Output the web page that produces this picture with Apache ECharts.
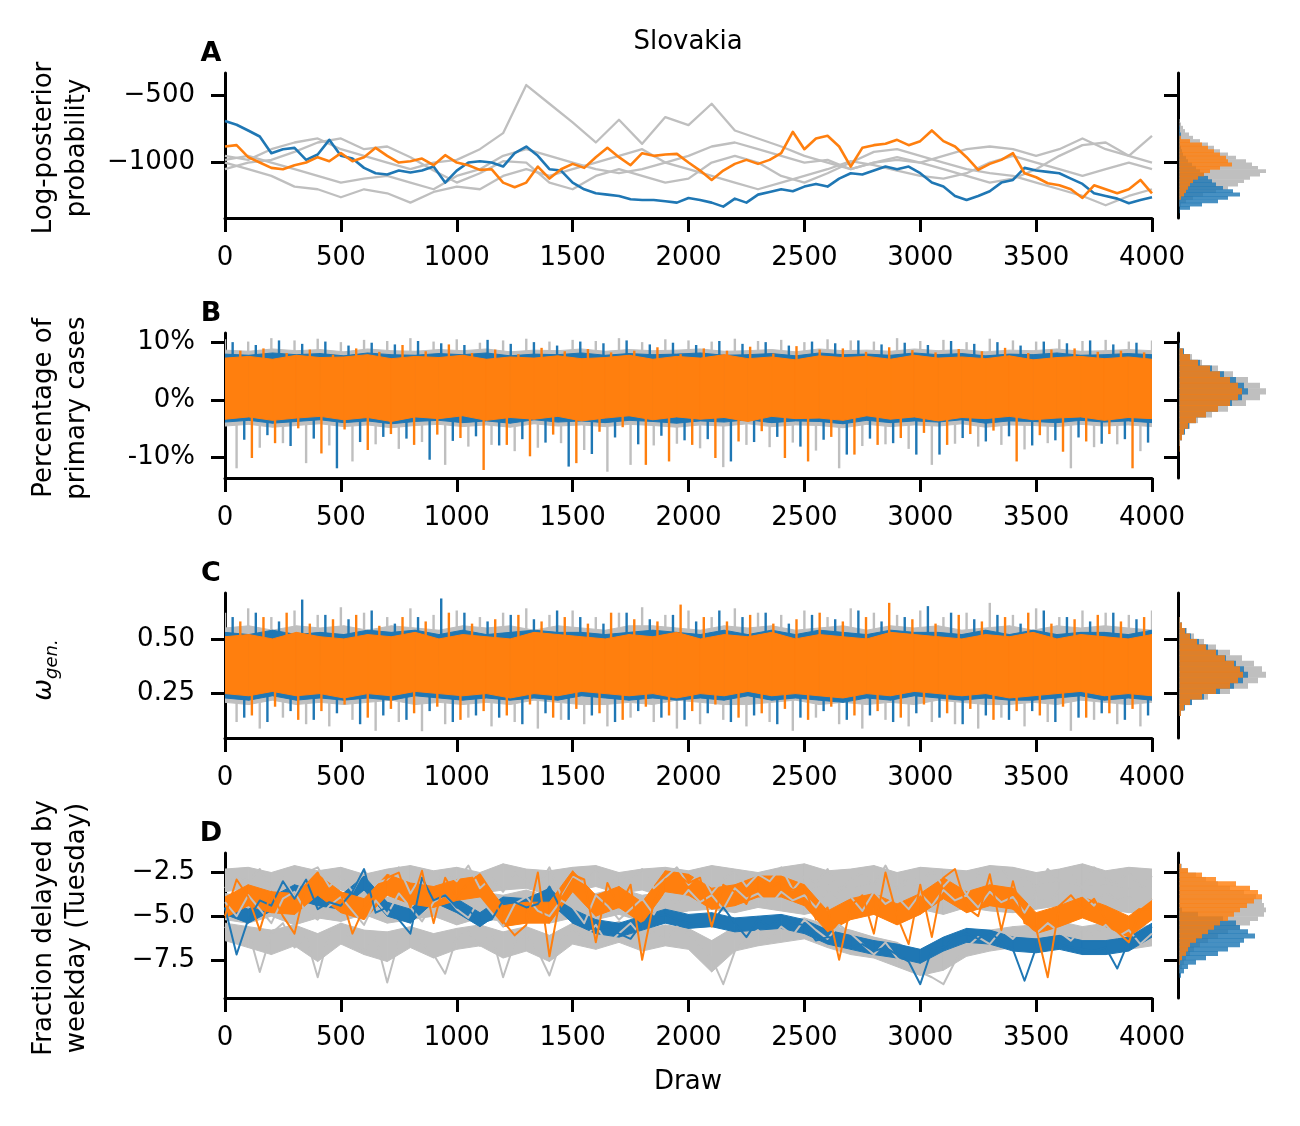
<!DOCTYPE html>
<html><head><meta charset="utf-8">
<script src="https://cdn.jsdelivr.net/npm/echarts@6/dist/echarts.min.js"></script>
<style>html,body{margin:0;padding:0;background:#fff}#c{width:1300px;height:1126px}</style>
</head><body><div id="c"></div>
<script>
// ---------------- DATA ----------------
const xTicks = [0,500,1000,1500,2000,2500,3000,3500,4000];
const drawsMax = 4000;

// Panel A: log-posterior probability, chains read every 50 / 100 draws
const blueA = [-690,-717,-760,-805,-930,-900,-890,-980,-940,-830,
 -950,-970,-1040,-1080,-1090,-1060,-1075,-1060,-1030,-1150,
 -1060,-1000,-990,-1000,-1030,-930,-880,-950,-1050,-1060,
 -1150,-1200,-1230,-1240,-1250,-1275,-1280,-1280,-1290,-1300,
 -1265,-1280,-1300,-1330,-1270,-1300,-1240,-1220,-1200,-1215,
 -1180,-1160,-1180,-1120,-1080,-1090,-1060,-1030,-1050,-1030,
 -1080,-1150,-1180,-1250,-1280,-1250,-1215,-1150,-1130,-1040,
 -1060,-1070,-1080,-1120,-1160,-1230,-1250,-1270,-1305,-1280,
 -1260];
const orangeA = [-880,-870,-960,-1000,-1040,-1050,-1020,-1000,-960,-990,
 -930,-990,-960,-890,-950,-1000,-990,-970,-1020,-945,
 -1000,-1020,-1055,-1050,-1150,-1185,-1150,-1030,-1120,-1050,
 -1010,-1040,-960,-890,-960,-1020,-930,-950,-940,-935,
 -1000,-1060,-1130,-1060,-1010,-980,-1010,-980,-930,-770,
 -900,-820,-800,-880,-1030,-890,-870,-860,-830,-870,
 -840,-760,-840,-880,-960,-1055,-1010,-980,-930,-1080,
 -1110,-1155,-1170,-1200,-1265,-1170,-1200,-1230,-1200,-1130,
 -1230];
const grayA1 = [-950,-980,-900,-850,-820,-900,-950,-1000,-1050,-1000,
 -980,-900,-780,-420,-560,-700,-850,-680,-860,-660,
 -720,-560,-760,-820,-880,-950,-1000,-1050,-1000,-980,
 -1000,-1050,-1100,-1150,-1120,-1050,-950,-870,-850,-950,
 -800];
const grayA2 = [-1000,-1050,-1100,-1180,-1200,-1260,-1200,-1230,-1300,-1220,
 -1180,-1200,-1100,-1050,-1100,-1050,-1000,-950,-900,-1000,
 -950,-880,-850,-900,-950,-1000,-980,-1050,-1000,-960,
 -1000,-950,-900,-880,-900,-950,-900,-820,-900,-950,
 -1000];
const grayA3 = [-1050,-1000,-980,-920,-850,-820,-900,-880,-960,-1060,
 -1150,-1080,-990,-1000,-1150,-1200,-1100,-1050,-1100,-1150,
 -1120,-1000,-950,-1000,-1100,-1150,-1080,-1000,-920,-900,
 -950,-1000,-1050,-1080,-1100,-1150,-1200,-1250,-1320,-1250,
 -1200];
const grayA4 = [-980,-950,-1000,-1050,-1100,-1150,-1120,-1100,-1150,-1200,
 -1100,-1050,-950,-900,-950,-1000,-1050,-1080,-1050,-1000,
 -1050,-1100,-1150,-1200,-1150,-1100,-1050,-990,-1020,-1060,
 -1100,-1120,-1080,-1000,-950,-1000,-1050,-1100,-1050,-1000,
 -1050];

// Panel B: percentage of primary cases — dense core of each chain (40 bins) + extremes every 100 draws
const orangeCoreHiB = [7.3,7.6,7.1,7.8,7.4,7.5,7.9,7.2,7.6,7.4,7.8,7.1,7.5,7.3,7.7,7.2,7.4,7.8,7.1,7.6,7.3,7.9,7.2,7.5,7.0,7.7,7.4,7.6,7.1,7.8,7.3,7.5,7.2,7.7,7.0,7.4,7.6,7.2,7.5,7.1];
const orangeCoreLoB = [-3.4,-3.0,-3.6,-3.2,-2.9,-3.5,-3.1,-3.8,-3.0,-3.3,-2.8,-3.6,-3.1,-3.4,-2.9,-3.7,-3.2,-2.8,-3.5,-3.0,-3.4,-3.1,-3.8,-2.9,-3.3,-3.2,-3.6,-2.8,-3.4,-3.0,-3.7,-3.1,-3.3,-2.9,-3.5,-3.2,-3.0,-3.6,-3.1,-3.3];
const blueCoreHiB = [8.0,7.8,8.2,7.9,8.1,7.7,8.2,7.9,7.8,8.1,7.9,8.2,7.7,8.0,7.9,8.2,7.8,8.1,7.9,8.0,8.2,7.8,7.9,8.1,7.7,8.2,7.9,8.0,7.8,8.2,7.9,8.1,7.7,8.0,7.9,8.2,7.8,7.9,8.1,7.9];
const blueCoreLoB = [-3.9,-3.6,-4.1,-3.8,-3.5,-4.0,-3.7,-4.2,-3.8,-3.6,-4.0,-3.7,-4.1,-3.5,-3.9,-3.7,-4.0,-3.6,-3.8,-4.1,-3.7,-3.9,-3.5,-4.0,-3.7,-3.8,-4.2,-3.6,-4.0,-3.7,-3.9,-3.5,-4.1,-3.7,-3.8,-4.0,-3.6,-3.9,-3.7,-4.0];
const grayCoreHiB = [8.7,8.5,8.9,8.6,8.8,8.4,8.9,8.6,8.5,8.8,8.6,8.9,8.4,8.7,8.6,8.9,8.5,8.8,8.6,8.7,8.9,8.5,8.6,8.8,8.4,8.9,8.6,8.7,8.5,8.9,8.6,8.8,8.4,8.7,8.6,8.9,8.5,8.6,8.8,8.6];
const grayCoreLoB = [-4.6,-4.3,-4.8,-4.5,-4.2,-4.7,-4.4,-4.9,-4.5,-4.3,-4.7,-4.4,-4.8,-4.2,-4.6,-4.4,-4.7,-4.3,-4.5,-4.8,-4.4,-4.6,-4.2,-4.7,-4.4,-4.5,-4.9,-4.3,-4.7,-4.4,-4.6,-4.2,-4.8,-4.4,-4.5,-4.7,-4.3,-4.6,-4.4,-4.7];
const orangeSpikeHiB = [8.6,9.0,8.2,8.8,7.9,9.0,8.4,9.6,8.5,9.7,8.2,8.8,8.0,9.1,8.5,8.9,8.3,8.6,9.2,8.0,9.0,8.6,9.3,8.1,9.4,8.8,9.0,8.4,9.2,8.7,8.3,8.9,8.5,9.1,8.2,8.8,9.0,8.4,8.6,8.3,7.8];
const orangeSpikeLoB = [-10.2,-7.6,-5.0,-9.4,-5.2,-8.8,-6.0,-7.9,-6.1,-6.7,-12.3,-7.9,-9.9,-6.1,-11.1,-5.6,-4.8,-11.4,-10.8,-7.9,-10.2,-7.3,-5.5,-10.2,-10.8,-6.5,-9.6,-7.9,-6.7,-5.8,-7.9,-6.0,-5.4,-10.8,-6.2,-9.1,-7.3,-6.0,-12.0,-12.0];
const blueSpikeHiB = [10.1,9.6,10.4,9.8,10.2,9.5,10.0,9.7,10.3,9.9,9.6,10.5,9.8,10.1,9.5,10.2,9.9,10.4,9.7,10.0,9.6,10.3,9.8,10.1,9.5,10.2,9.9,10.4,9.7,10.0,9.6,10.3,9.8,10.1,9.5,10.2,9.9,10.4,9.7,10.0,9.8];
const blueSpikeLoB = [-7.0,-6.2,-8.1,-6.8,-12.0,-7.4,-6.5,-6.8,-10.5,-7.2,-6.4,-8.0,-6.9,-7.5,-11.7,-9.5,-6.6,-7.8,-6.3,-7.1,-6.9,-10.8,-7.4,-6.5,-8.2,-7.0,-9.6,-6.8,-7.6,-9.6,-9.6,-6.7,-7.3,-6.4,-8.0,-7.1,-6.6,-7.7,-6.9,-7.5];
const graySpikeHiB = [10.6,10.2,10.8,10.4,10.7,10.1,10.5,10.3,10.8,10.2,10.6,10.0,10.4,10.7,10.2,10.5,10.3,10.8,10.1,10.6,10.4,10.2,10.7,10.3,10.5,10.1,10.6,10.4,10.2,10.8,10.3,10.5,10.1,10.7,10.4,10.2,10.6,10.3,10.5,10.2,10.4];
const graySpikeLoB = [-12.0,-8.4,-7.6,-11.1,-8.0,-10.8,-7.8,-8.6,-7.4,-11.4,-8.2,-7.9,-9.0,-8.4,-7.6,-8.8,-12.6,-11.4,-8.0,-7.7,-8.5,-11.8,-7.9,-8.3,-7.5,-8.9,-12.0,-8.1,-7.8,-8.6,-11.4,-7.7,-8.2,-7.9,-8.7,-7.6,-12.0,-8.3,-7.8,-9.0];

// Panel C: omega_gen
const orangeCoreHiC = [0.51,0.52,0.50,0.53,0.51,0.50,0.52,0.51,0.53,0.50,0.52,0.51,0.50,0.53,0.52,0.51,0.50,0.52,0.51,0.53,0.50,0.52,0.51,0.53,0.50,0.52,0.51,0.50,0.53,0.52,0.51,0.50,0.52,0.51,0.53,0.50,0.52,0.51,0.50,0.52];
const orangeCoreLoC = [0.25,0.24,0.26,0.24,0.25,0.23,0.25,0.24,0.26,0.25,0.24,0.25,0.23,0.25,0.24,0.26,0.25,0.24,0.25,0.23,0.25,0.24,0.26,0.24,0.25,0.24,0.23,0.25,0.24,0.26,0.25,0.24,0.25,0.23,0.24,0.25,0.26,0.24,0.25,0.24];
const blueCoreHiC = [0.53,0.52,0.54,0.52,0.53,0.52,0.54,0.53,0.54,0.52,0.54,0.52,0.53,0.54,0.53,0.53,0.52,0.53,0.54,0.53,0.52,0.54,0.52,0.54,0.52,0.54,0.53,0.52,0.54,0.53,0.53,0.52,0.54,0.52,0.54,0.52,0.53,0.53,0.52,0.54];
const blueCoreLoC = [0.23,0.22,0.24,0.22,0.23,0.22,0.23,0.22,0.24,0.23,0.22,0.23,0.22,0.23,0.22,0.24,0.23,0.22,0.23,0.22,0.23,0.22,0.24,0.22,0.23,0.22,0.21,0.23,0.22,0.24,0.23,0.22,0.23,0.22,0.22,0.23,0.24,0.22,0.23,0.22];
const grayCoreHiC = [0.55,0.56,0.54,0.56,0.55,0.56,0.54,0.56,0.55,0.54,0.56,0.55,0.56,0.54,0.56,0.55,0.54,0.56,0.56,0.55,0.54,0.56,0.55,0.56,0.54,0.55,0.56,0.54,0.56,0.55,0.56,0.54,0.55,0.56,0.54,0.56,0.55,0.56,0.55,0.54];
const grayCoreLoC = [0.21,0.20,0.22,0.20,0.21,0.20,0.21,0.22,0.20,0.21,0.20,0.21,0.20,0.22,0.21,0.20,0.20,0.21,0.20,0.22,0.21,0.20,0.20,0.21,0.22,0.20,0.21,0.20,0.21,0.20,0.22,0.21,0.20,0.20,0.21,0.20,0.22,0.21,0.20,0.21];
const orangeSpikeHiC = [0.58,0.60,0.62,0.57,0.59,0.61,0.56,0.60,0.58,0.62,0.57,0.59,0.61,0.58,0.60,0.57,0.62,0.59,0.58,0.657,0.60,0.58,0.61,0.57,0.59,0.62,0.58,0.60,0.665,0.59,0.57,0.61,0.58,0.60,0.62,0.57,0.59,0.61,0.58,0.60,0.57];
const orangeSpikeLoC = [0.15,0.19,0.13,0.17,0.20,0.14,0.18,0.16,0.19,0.13,0.17,0.15,0.20,0.14,0.18,0.16,0.13,0.19,0.15,0.17,0.20,0.14,0.16,0.18,0.13,0.19,0.15,0.17,0.14,0.20,0.16,0.18,0.13,0.17,0.15,0.19,0.14,0.16,0.18,0.13];
const blueSpikeHiC = [0.60,0.62,0.58,0.68,0.61,0.59,0.63,0.57,0.60,0.685,0.62,0.58,0.61,0.59,0.63,0.60,0.57,0.62,0.59,0.61,0.58,0.63,0.60,0.62,0.57,0.61,0.59,0.63,0.58,0.60,0.65,0.62,0.59,0.61,0.57,0.63,0.60,0.58,0.62,0.59,0.61];
const blueSpikeLoC = [0.14,0.12,0.17,0.13,0.16,0.11,0.15,0.13,0.17,0.12,0.15,0.14,0.11,0.16,0.13,0.15,0.12,0.17,0.14,0.13,0.16,0.12,0.15,0.11,0.14,0.17,0.13,0.15,0.12,0.16,0.14,0.11,0.15,0.13,0.17,0.12,0.14,0.16,0.13,0.15];
const graySpikeHiC = [0.62,0.64,0.60,0.63,0.61,0.645,0.62,0.60,0.64,0.61,0.63,0.60,0.62,0.64,0.61,0.63,0.60,0.62,0.645,0.61,0.63,0.60,0.64,0.62,0.61,0.63,0.60,0.64,0.62,0.61,0.63,0.60,0.62,0.665,0.61,0.64,0.60,0.63,0.62,0.61,0.63];
const graySpikeLoC = [0.12,0.09,0.14,0.11,0.10,0.13,0.08,0.12,0.078,0.11,0.14,0.10,0.12,0.09,0.13,0.11,0.10,0.14,0.12,0.09,0.11,0.13,0.10,0.12,0.08,0.14,0.11,0.09,0.13,0.10,0.12,0.11,0.09,0.14,0.10,0.12,0.08,0.13,0.11,0.10];

// Panel D: fraction delayed by weekday (Tuesday) — readings every 50 draws + chain band every 100 draws
const blueD = [-4.5,-7.2,-5.2,-4.1,-4.4,-3.0,-4.0,-2.9,-4.6,-4.2,
 -4.4,-3.6,-2.3,-4.8,-4.5,-5.2,-6.0,-2.8,-4.1,-3.8,
 -4.5,-4.6,-5.4,-5.2,-4.1,-4.2,-4.5,-4.3,-3.3,-4.6,
 -5.2,-5.6,-5.8,-5.6,-6.0,-6.3,-5.4,-5.1,-4.9,-5.2,
 -5.4,-5.5,-5.4,-4.5,-5.4,-6.2,-5.2,-5.6,-5.0,-5.4,
 -5.5,-6.4,-6.2,-6.3,-6.8,-6.6,-7.0,-6.8,-7.2,-7.6,
 -8.9,-6.9,-6.8,-6.2,-6.0,-6.3,-5.9,-6.5,-6.9,-8.7,
 -6.8,-6.4,-6.6,-6.8,-6.9,-7.0,-6.8,-8.0,-6.4,-6.0,
 -5.6];
const orangeD = [-5.0,-2.9,-3.9,-5.8,-3.6,-5.0,-6.0,-3.2,-2.5,-3.9,
 -3.7,-6.0,-4.5,-3.8,-2.8,-2.5,-4.5,-2.4,-5.4,-2.8,
 -3.9,-3.1,-2.6,-3.6,-5.3,-6.1,-5.5,-2.5,-7.3,-3.7,
 -2.6,-2.9,-6.5,-3.1,-4.5,-3.2,-7.5,-4.2,-2.9,-2.6,
 -3.1,-2.8,-5.6,-3.2,-3.6,-4.3,-2.8,-3.4,-3.0,-3.5,
 -3.3,-5.2,-4.5,-7.5,-4.4,-3.8,-6.0,-2.5,-5.0,-6.6,
 -3.2,-6.2,-2.8,-2.3,-4.5,-5.0,-2.6,-5.8,-3.0,-5.4,
 -5.7,-8.5,-4.4,-3.8,-4.6,-4.0,-5.2,-5.9,-6.5,-4.6,
 -4.6];
const grayD1 = [-3.4,-2.6,-3.0,-2.3,-3.5,-2.8,-3.9,-2.5,-2.2,-3.3,
 -2.7,-3.6,-2.4,-3.1,-2.9,-2.2,-3.7,-2.6,-3.2,-2.4,
 -3.0,-2.1,-3.4,-2.8,-3.6,-2.5,-2.9,-3.3,-2.2,-3.8,
 -2.7,-3.1,-2.4,-3.5,-2.6,-3.0,-2.3,-3.4,-2.8,-2.2,
 -3.2,-2.5,-3.7,-2.9,-2.4,-3.3,-2.6,-3.0,-2.2,-3.5,
 -2.7,-3.1,-2.3,-3.6,-2.9,-2.5,-3.2,-2.1,-3.4,-2.8,
 -3.0,-2.4,-3.3,-2.6,-3.8,-2.5,-2.9,-2.2,-3.2,-2.7,
 -3.5,-2.3,-3.0,-2.6,-3.4,-2.2,-2.9,-3.1,-2.5,-3.3,
 -2.7];
const grayD2 = [-4.2,-5.0,-3.8,-4.6,-5.4,-4.0,-3.6,-4.8,-5.2,-4.4,
 -3.9,-4.7,-5.5,-4.1,-4.9,-3.7,-4.5,-5.3,-4.2,-3.8,
 -4.6,-5.1,-4.0,-4.8,-5.6,-4.3,-3.9,-4.7,-5.0,-4.1,
 -4.5,-5.4,-3.8,-4.4,-5.2,-4.6,-4.0,-4.9,-3.7,-4.3,
 -3.5,-4.2,-3.8,-4.6,-3.4,-4.0,-3.7,-4.4,-3.6,-4.1,
 -3.8,-4.5,-3.5,-4.2,-3.9,-4.7,-3.6,-4.3,-3.9,-4.6,
 -3.7,-4.4,-3.5,-4.1,-3.8,-4.5,-3.6,-4.2,-3.9,-4.8,
 -3.7,-4.3,-3.5,-4.0,-3.8,-4.4,-3.6,-4.1,-3.9,-4.5,
 -4.0];
const grayD3 = [-5.6,-6.5,-5.8,-8.2,-6.0,-5.4,-6.8,-6.2,-8.5,-6.0,
 -5.6,-6.4,-7.0,-6.2,-8.8,-6.4,-5.8,-6.6,-7.2,-8.3,
 -6.2,-5.9,-6.7,-6.0,-8.5,-6.5,-6.1,-7.0,-8.4,-6.4,
 -5.7,-6.3,-5.5,-6.6,-6.0,-5.4,-6.2,-5.8,-6.4,-5.6,
 -6.0,-6.8,-7.4,-8.9,-7.0,-6.2,-5.8,-6.4,-5.6,-6.1,
 -5.2,-5.8,-6.3,-5.5,-6.0,-6.6,-7.2,-6.5,-7.4,-7.9,
 -8.2,-8.5,-8.9,-7.6,-6.8,-6.2,-6.6,-5.8,-6.3,-5.6,
 -6.0,-5.4,-5.9,-6.4,-5.7,-6.1,-5.5,-6.2,-5.8,-6.6,
 -6.0];
const blueBandHiD = [-4.1,-4.6,-3.9,-3.2,-3.6,-3.8,-2.7,-4.2,-4.6,-3.4,-4.0,-4.8,-3.9,-4.0,-3.4,-4.6,-5.2,-5.4,-5.0,-4.6,-4.9,-4.8,-5.1,-5.0,-4.9,-5.2,-5.8,-6.1,-6.4,-6.6,-6.9,-6.2,-5.7,-5.8,-6.2,-6.3,-6.1,-6.4,-6.4,-6.2,-5.4];
const blueBandLoD = [-4.9,-5.4,-4.7,-4.0,-4.4,-4.6,-3.5,-5.0,-5.4,-4.2,-4.8,-5.6,-4.7,-4.8,-4.2,-5.4,-6.0,-6.2,-5.8,-5.4,-5.7,-5.6,-5.9,-5.8,-5.7,-6.0,-6.6,-6.9,-7.2,-7.4,-7.7,-7.0,-6.5,-6.6,-7.0,-7.1,-6.9,-7.2,-7.2,-7.0,-6.2];
const orangeBandHiD = [-3.9,-3.2,-3.6,-3.7,-2.6,-3.6,-4.0,-2.6,-3.1,-3.3,-2.9,-2.7,-4.4,-4.2,-4.2,-2.4,-3.8,-3.3,-4.2,-2.4,-2.6,-3.4,-3.2,-2.7,-2.7,-3.2,-4.7,-4.0,-3.7,-4.3,-3.7,-2.8,-3.6,-3.2,-3.4,-4.8,-4.4,-3.9,-4.4,-5.0,-4.0];
const orangeBandLoD = [-5.1,-4.4,-4.8,-4.9,-3.8,-4.8,-5.2,-3.8,-4.3,-4.5,-4.1,-3.9,-5.6,-5.4,-5.4,-3.6,-5.0,-4.5,-5.4,-3.6,-3.8,-4.6,-4.4,-3.9,-3.9,-4.4,-5.9,-5.2,-4.9,-5.5,-4.9,-4.0,-4.8,-4.4,-4.6,-6.0,-5.6,-5.1,-5.6,-6.2,-5.2];
const grayBandHiD1 = [-2.3,-2.2,-2.5,-2.1,-2.4,-2.2,-2.6,-2.3,-2.1,-2.4,-2.2,-2.5,-2.0,-2.3,-2.4,-2.2,-2.1,-2.5,-2.3,-2.2,-2.4,-2.1,-2.3,-2.5,-2.2,-2.0,-2.4,-2.3,-2.1,-2.5,-2.2,-2.3,-2.4,-2.1,-2.2,-2.5,-2.3,-2.0,-2.4,-2.2,-2.3];
const grayBandLoD1 = [-3.6,-3.4,-3.8,-3.3,-3.7,-3.5,-3.9,-3.4,-3.6,-3.8,-3.3,-3.7,-3.5,-3.4,-3.8,-3.6,-3.3,-3.7,-3.5,-3.9,-3.4,-3.6,-3.8,-3.5,-3.3,-3.7,-3.6,-3.4,-3.8,-3.5,-3.6,-3.3,-3.7,-3.5,-3.4,-3.8,-3.6,-3.3,-3.7,-3.5,-3.6];
const grayBandHiD2 = [-3.7,-3.9,-3.5,-4.0,-3.6,-3.8,-3.4,-3.9,-3.7,-3.5,-4.0,-3.6,-3.8,-3.5,-3.9,-3.6,-3.7,-3.4,-3.8,-3.6,-3.3,-3.2,-3.4,-3.1,-3.3,-3.5,-3.2,-3.4,-3.1,-3.3,-3.2,-3.5,-3.1,-3.3,-3.4,-3.2,-3.0,-3.3,-3.2,-3.4,-3.3];
const grayBandLoD2 = [-5.2,-5.4,-5.0,-5.5,-5.1,-5.3,-4.9,-5.4,-5.2,-5.0,-5.5,-5.1,-5.3,-5.0,-5.4,-5.1,-5.2,-4.9,-5.3,-5.0,-4.7,-4.6,-4.8,-4.5,-4.7,-4.9,-4.6,-4.8,-4.5,-4.7,-4.6,-4.9,-4.5,-4.7,-4.8,-4.6,-4.4,-4.7,-4.6,-4.8,-4.7];
const grayBandHiD3 = [-5.4,-5.6,-5.8,-5.5,-6.0,-5.4,-5.8,-5.9,-5.6,-6.0,-5.7,-5.5,-5.9,-5.6,-6.1,-5.4,-5.7,-5.3,-5.8,-5.5,-5.7,-6.4,-5.6,-5.5,-5.3,-5.1,-5.5,-5.8,-6.2,-6.5,-7.2,-6.8,-6.1,-5.8,-5.6,-5.5,-5.3,-5.6,-5.4,-5.7,-5.5];
const grayBandLoD3 = [-6.4,-6.8,-7.2,-6.7,-7.6,-6.6,-7.2,-7.6,-6.8,-7.4,-6.9,-6.7,-7.4,-7.0,-7.6,-6.6,-6.9,-6.5,-7.0,-6.7,-6.9,-8.2,-7.0,-6.7,-6.5,-6.3,-6.8,-7.2,-7.4,-7.9,-8.4,-8.1,-7.3,-7.0,-6.8,-6.7,-6.5,-6.8,-6.6,-6.9,-6.7];

// Marginal histograms (counts per bin; bins start at histStart, width histWidth)
const histStartA = -1400, histWidthA = 25;
const grayHistA = [0,0,1,3,8,15,25,38,50,60,66,72,82,88,80,74,68,58,50,42,36,30,22,15,11,7,5,3,2,1,0,0];
const orangeHistA = [0,0,0,0,0,3,6,8,10,12,15,20,26,32,42,54,50,48,42,36,30,24,12,3,1,0,0,0,0,0,0,0];
const blueHistA = [0,2,12,24,40,50,62,55,45,38,34,30,26,22,18,14,10,8,5,4,3,2,2,2,3,2,2,1,1,0,0,0];
const histStartB = -13, histWidthB = 1;
const grayHistB = [0,0,0,0,1,2,4,7,12,20,34,50,68,82,88,82,70,55,40,24,14,6,2,0];
const orangeHistB = [0,0,1,1,2,2,4,6,10,18,28,40,52,60,64,60,52,42,32,20,12,5,1,0];
const blueHistB = [0,0,0,1,1,2,4,7,11,18,28,40,54,64,70,66,58,46,34,22,12,6,2,0];
const histStartC = 0.1, histWidthC = 0.025;
const grayHistC = [0,0,2,6,14,30,52,70,80,88,84,76,64,52,38,26,16,9,4,2,1,0];
const orangeHistC = [0,1,3,6,12,24,38,52,60,65,62,56,47,38,28,19,12,7,4,2,1,0];
const blueHistC = [0,1,3,7,14,26,42,56,65,70,66,58,48,40,30,21,13,8,4,2,1,0];
const histStartD = -9, histWidthD = 0.25;
const grayHistD = [0,0,1,2,4,6,8,12,16,22,30,40,50,62,72,80,86,88,86,84,78,66,52,40,28,18,10,4,1,0];
const orangeHistD = [0,0,0,0,0,2,4,8,10,12,18,24,30,36,42,50,56,62,69,76,84,80,72,58,38,24,10,3,0,0];
const blueHistD = [0,1,3,6,10,18,28,40,50,62,66,77,70,62,58,45,20,4,0,0,0,0,0,0,0,0,0,0,0,0];

// Axis ticks
const yTicksA = [-1000,-500];
const yTicksB = [-10,0,10];
const yTicksC = [0.25,0.50];
const yTicksD = [-7.5,-5.0,-2.5];

// ---------------- RENDERING ----------------
const FONT = 'DejaVu Sans';
const FS = 26;
const GRAY = '#bfbfbf', BLUE = '#1f77b4', ORANGE = '#ff7f0e';
const HBLUE = 'rgba(31,119,180,0.82)', HORANGE = 'rgba(255,127,14,0.82)';
const MINUS = '\u2212';
const fmtMinus = d => v => (v < 0 ? MINUS : '') + Math.abs(v).toFixed(d);

const panels = [
  {top:73,  min:-1415, max:-330, ticks:yTicksA, fmt:fmtMinus(0)},
  {top:333, min:-13.7, max:11.7, ticks:yTicksB, fmt:v => v + '%'},
  {top:593, min:0.047, max:0.71, ticks:yTicksC, fmt:fmtMinus(2)},
  {top:853, min:-9.69, max:-1.38, ticks:yTicksD, fmt:fmtMinus(1)}
];
const PH = 145, LEFT = 225, W = 927, HLEFT = 1178, HW = 100;

const grids = [], xAxes = [], yAxes = [];
const axisLine = {show:true, onZero:false, lineStyle:{color:'#000', width:3}};
const axisTick = {show:true, length:14, lineStyle:{color:'#000', width:3}};
panels.forEach((p, i) => {
  grids.push({left:LEFT, top:p.top, width:W, height:PH, containLabel:false, outerBoundsMode:'none'});
  xAxes.push({gridIndex:i, type:'value', min:0, max:drawsMax, interval:500,
    axisLine, axisTick,
    axisLabel:{show:true, fontSize:FS, fontFamily:FONT, color:'#000', margin:27, formatter:v => String(v)},
    splitLine:{show:false}});
  yAxes.push({gridIndex:i, type:'value', min:p.min, max:p.max,
    axisLine, axisTick:Object.assign({customValues:p.ticks}, axisTick),
    axisLabel:{show:true, fontSize:FS, fontFamily:FONT, color:'#000', margin:30, customValues:p.ticks, formatter:p.fmt},
    splitLine:{show:false}});
});
panels.forEach((p, i) => {
  grids.push({left:HLEFT, top:p.top, width:HW, height:PH, containLabel:false, outerBoundsMode:'none'});
  xAxes.push({gridIndex:4+i, type:'value', min:0, max:100, show:false});
  yAxes.push({gridIndex:4+i, type:'value', min:p.min, max:p.max,
    axisLine, axisTick:Object.assign({customValues:p.ticks}, axisTick),
    axisLabel:{show:false}, splitLine:{show:false}});
});

function traceXY(arr){ const step = drawsMax / (arr.length - 1); return arr.map((v, i) => [i * step, v]); }
function lineS(ax, arr, color, w){ return {type:'line', xAxisIndex:ax, yAxisIndex:ax, data:traceXY(arr), showSymbol:false, symbol:'none', silent:true, animation:false,
  lineStyle:{color, width:w, join:'round'}, itemStyle:{color}, clip:true}; }
// band between two curves (hi/lo) spread evenly over the draws
function bandS(ax, hi, lo, color){
  const step = drawsMax / (hi.length - 1);
  const data = [];
  for (let i = 0; i < hi.length - 1; i++) data.push([i*step, (i+1)*step, lo[i], hi[i], lo[i+1], hi[i+1]]);
  return {type:'custom', xAxisIndex:ax, yAxisIndex:ax, data, silent:true, animation:false, clip:true,
    renderItem(params, api){
      const x0 = api.value(0), x1 = api.value(1);
      const pts = [api.coord([x0, api.value(3)]), api.coord([x1, api.value(5)]), api.coord([x1, api.value(4)]), api.coord([x0, api.value(2)])];
      return {type:'polygon', shape:{points:pts}, style:{fill:color, stroke:color, lineWidth:1}};
    }};
}
// vertical excursions of a noisy chain (one up-extreme and one down-extreme per 100 draws)
function spikeS(ax, hi, lo, phase, mid, color){
  const data = [];
  hi.forEach((v, i) => data.push([i*100 + phase, v]));
  lo.forEach((v, i) => data.push([i*100 + 50 + phase, v]));
  return {type:'custom', xAxisIndex:ax, yAxisIndex:ax, data, silent:true, animation:false, clip:true,
    renderItem(params, api){
      const a = api.coord([api.value(0), mid]);
      const b = api.coord([api.value(0), api.value(1)]);
      return {type:'line', shape:{x1:a[0], y1:a[1], x2:b[0], y2:b[1]}, style:{stroke:color, lineWidth:2.4}};
    }};
}
function histS(ax, start, width, counts, color){
  const data = counts.map((c, i) => [start + i*width, start + (i+1)*width, c]);
  return {type:'custom', xAxisIndex:ax, yAxisIndex:ax, data, silent:true, animation:false, clip:true,
    renderItem(params, api){
      const a = api.coord([0, api.value(1)]);
      const b = api.coord([api.value(2), api.value(0)]);
      return {type:'rect', shape:{x:a[0]+1.5, y:a[1], width:Math.max(0, b[0]-a[0]-1.5), height:b[1]-a[1]+0.5}, style:{fill:color}};
    }};
}

const series = [
  // A
  lineS(0, grayA1, GRAY, 2.3), lineS(0, grayA2, GRAY, 2.3), lineS(0, grayA3, GRAY, 2.3), lineS(0, grayA4, GRAY, 2.3),
  lineS(0, blueA, BLUE, 2.6), lineS(0, orangeA, ORANGE, 2.6),
  // B
  spikeS(1, graySpikeHiB, graySpikeLoB, 0, 2, GRAY), bandS(1, grayCoreHiB, grayCoreLoB, GRAY),
  spikeS(1, blueSpikeHiB, blueSpikeLoB, 33, 2, BLUE), bandS(1, blueCoreHiB, blueCoreLoB, BLUE),
  spikeS(1, orangeSpikeHiB, orangeSpikeLoB, 66, 2, ORANGE), bandS(1, orangeCoreHiB, orangeCoreLoB, ORANGE),
  // C
  spikeS(2, graySpikeHiC, graySpikeLoC, 0, 0.38, GRAY), bandS(2, grayCoreHiC, grayCoreLoC, GRAY),
  spikeS(2, blueSpikeHiC, blueSpikeLoC, 33, 0.38, BLUE), bandS(2, blueCoreHiC, blueCoreLoC, BLUE),
  spikeS(2, orangeSpikeHiC, orangeSpikeLoC, 66, 0.38, ORANGE), bandS(2, orangeCoreHiC, orangeCoreLoC, ORANGE),
  // D
  bandS(3, grayBandHiD1, grayBandLoD1, GRAY), bandS(3, grayBandHiD2, grayBandLoD2, GRAY), bandS(3, grayBandHiD3, grayBandLoD3, GRAY),
  lineS(3, grayD1, GRAY, 2), lineS(3, grayD2, GRAY, 2), lineS(3, grayD3, GRAY, 2),
  bandS(3, blueBandHiD, blueBandLoD, BLUE), lineS(3, blueD, BLUE, 2),
  bandS(3, orangeBandHiD, orangeBandLoD, ORANGE), lineS(3, orangeD, ORANGE, 2),
  // histograms
  histS(4, histStartA, histWidthA, grayHistA, GRAY), histS(4, histStartA, histWidthA, blueHistA, HBLUE), histS(4, histStartA, histWidthA, orangeHistA, HORANGE),
  histS(5, histStartB, histWidthB, grayHistB, GRAY), histS(5, histStartB, histWidthB, blueHistB, HBLUE), histS(5, histStartB, histWidthB, orangeHistB, HORANGE),
  histS(6, histStartC, histWidthC, grayHistC, GRAY), histS(6, histStartC, histWidthC, blueHistC, HBLUE), histS(6, histStartC, histWidthC, orangeHistC, HORANGE),
  histS(7, histStartD, histWidthD, grayHistD, GRAY), histS(7, histStartD, histWidthD, blueHistD, HBLUE), histS(7, histStartD, histWidthD, orangeHistD, HORANGE)
];

function txt(text, x, y, opts){
  return Object.assign({type:'text', x, y, silent:true, z:100,
    style:Object.assign({text, fontSize:FS, fontFamily:FONT, fill:'#000', align:'center', verticalAlign:'middle'}, (opts && opts.style) || {})},
    (opts && opts.rotation !== undefined) ? {rotation:opts.rotation} : {});
}
const R = Math.PI / 2;
const graphics = [
  txt('Slovakia', 688, 42),
  txt('A', 211, 54, {style:{fontWeight:'bold', fontSize:27}}),
  txt('B', 211, 314, {style:{fontWeight:'bold', fontSize:27}}),
  txt('C', 211, 574, {style:{fontWeight:'bold', fontSize:27}}),
  txt('D', 211, 834, {style:{fontWeight:'bold', fontSize:27}}),
  txt('Log-posterior', 44, 148, {rotation:R}),
  txt('probability', 77, 148, {rotation:R}),
  txt('Percentage of', 44, 408, {rotation:R}),
  txt('primary cases', 77, 408, {rotation:R}),
  {type:'text', x:46, y:670, rotation:R, silent:true, z:100,
    style:{text:'{w|ω}{s|gen.}', align:'center', verticalAlign:'middle', fill:'#000',
      rich:{w:{fontSize:FS, fontFamily:FONT, fontStyle:'italic', fill:'#000', verticalAlign:'top', lineHeight:30},
            s:{fontSize:18, fontFamily:FONT, fontStyle:'italic', fill:'#000', verticalAlign:'bottom', lineHeight:18}}}},
  txt('Fraction delayed by', 44, 928, {rotation:R}),
  txt('weekday (Tuesday)', 77, 928, {rotation:R}),
  txt('Draw', 688, 1082)
];

const chart = echarts.init(document.getElementById('c'), null, {renderer:'canvas', width:1300, height:1126});
chart.setOption({
  backgroundColor:'#ffffff',
  animation:false,
  textStyle:{fontFamily:FONT},
  grid:grids, xAxis:xAxes, yAxis:yAxes, series, graphic:graphics
});
</script></body></html>
